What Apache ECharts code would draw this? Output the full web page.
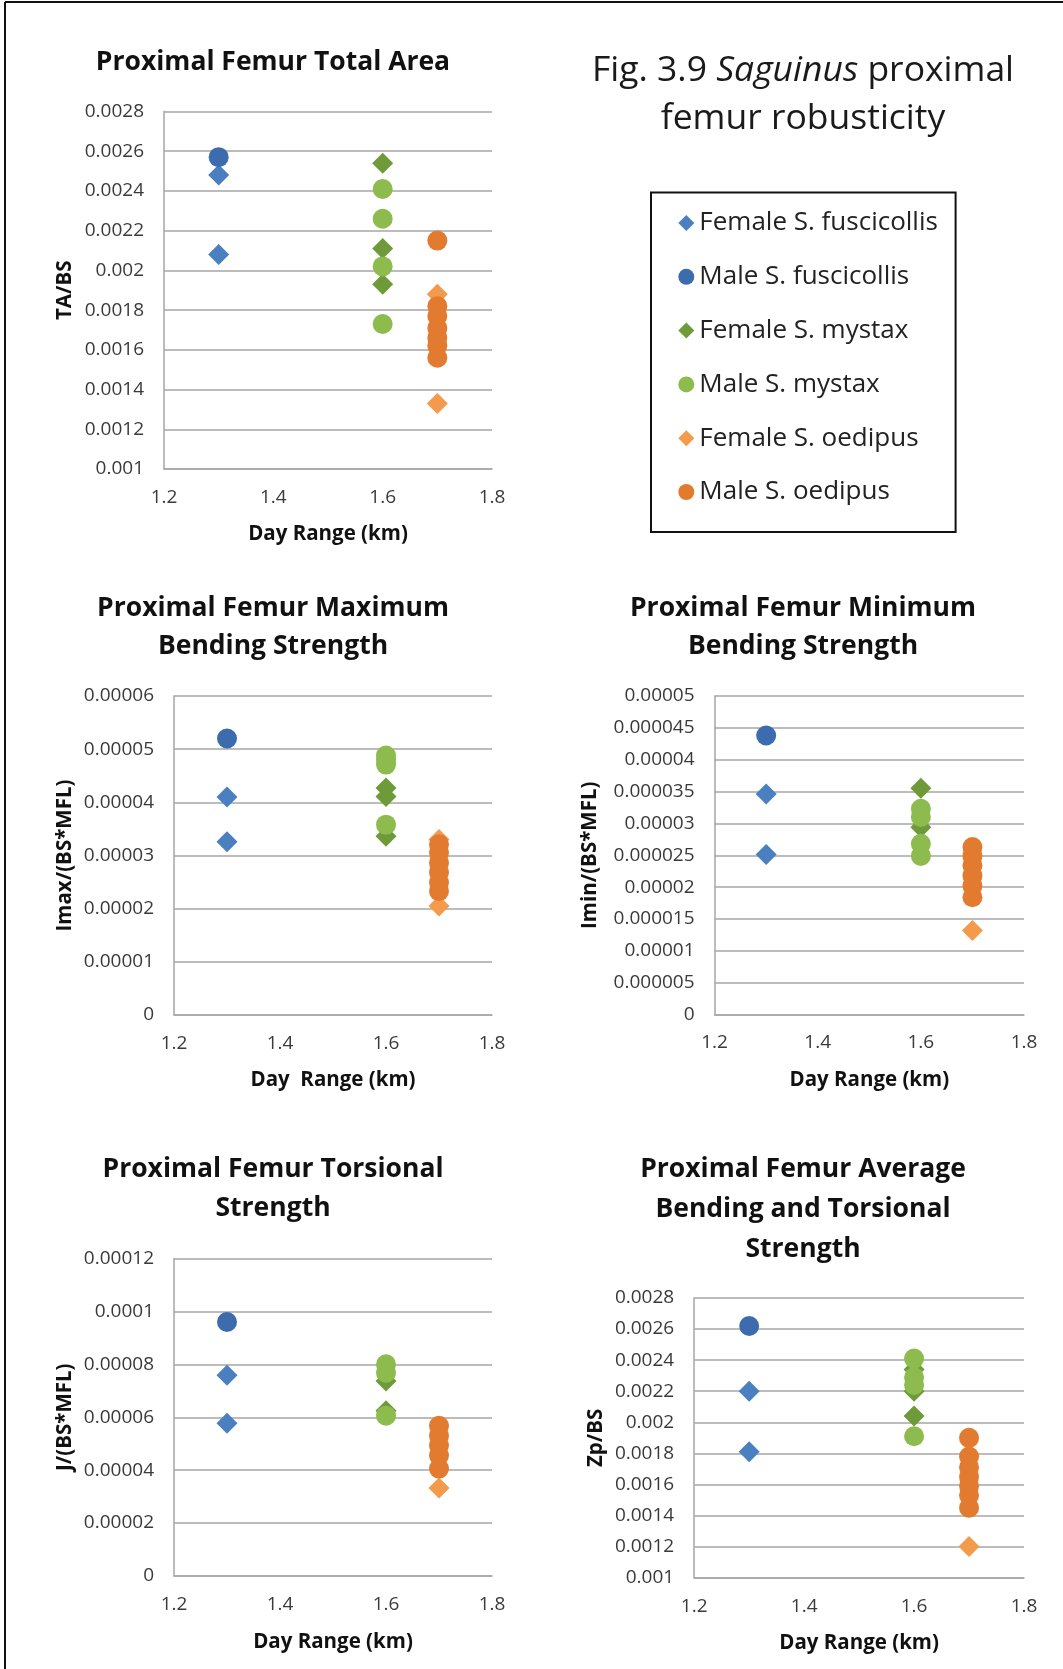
<!DOCTYPE html>
<html>
<head>
<meta charset="utf-8">
<script src="https://cdn.jsdelivr.net/npm/echarts/dist/echarts.min.js"></script>
<style>
  html, body { margin: 0; padding: 0; background: #ffffff; }
  #main { width: 1063px; height: 1669px; }
</style>
</head>
<body>
<div id="main"></div>
<script>
// Groups (legend order), their day range and marker styling
const groups = ['Female S. fuscicollis', 'Male S. fuscicollis', 'Female S. mystax',
                'Male S. mystax', 'Female S. oedipus', 'Male S. oedipus'];
const groupDayRange = [1.3, 1.3, 1.6, 1.6, 1.7, 1.7];
const groupSymbols = ['diamond', 'circle', 'diamond', 'circle', 'diamond', 'circle'];
const groupColors = ['#4a7fc0', '#3d6cae', '#6f9a3a', '#8dbb4e', '#f39a4c', '#e27b30'];

// Shared x axis ticks (day range, km)
const dayRangeTicks = [1.2, 1.4, 1.6, 1.8];

// Total area: TA/BS
const taTicks = [0.001, 0.0012, 0.0014, 0.0016, 0.0018, 0.002, 0.0022, 0.0024, 0.0026, 0.0028];
const taValues = [
  [0.00248, 0.00208],
  [0.00257],
  [0.00254, 0.00211, 0.00193],
  [0.00241, 0.00226, 0.00202, 0.00173],
  [0.00188, 0.00133],
  [0.00215, 0.00182, 0.00177, 0.00171, 0.00166, 0.00162, 0.00156]
];

// Maximum bending strength: Imax/(BS*MFL)
const imaxTicks = [0, 0.00001, 0.00002, 0.00003, 0.00004, 0.00005, 0.00006];
const imaxValues = [
  [0.000041, 0.0000326],
  [0.000052],
  [0.0000427, 0.0000411, 0.0000336],
  [0.0000488, 0.000048, 0.0000471, 0.0000358],
  [0.000033, 0.0000205],
  [0.0000321, 0.0000305, 0.0000286, 0.0000268, 0.0000249, 0.0000233]
];

// Minimum bending strength: Imin/(BS*MFL)
const iminTicks = [0, 0.000005, 0.00001, 0.000015, 0.00002, 0.000025, 0.00003, 0.000035, 0.00004, 0.000045, 0.00005];
const iminValues = [
  [0.0000346, 0.0000251],
  [0.0000438],
  [0.0000355, 0.0000294],
  [0.0000323, 0.000031, 0.0000268, 0.0000249],
  [0.0000132],
  [0.0000263, 0.0000249, 0.0000234, 0.0000218, 0.0000202, 0.0000184]
];

// Torsional strength: J/(BS*MFL)
const jTicks = [0, 0.00002, 0.00004, 0.00006, 0.00008, 0.0001, 0.00012];
const jValues = [
  [0.0000759, 0.0000577],
  [0.000096],
  [0.0000737, 0.0000625],
  [0.00008, 0.0000768, 0.0000606],
  [0.0000333],
  [0.0000568, 0.000053, 0.0000493, 0.0000455, 0.0000406]
];

// Average bending and torsional strength: Zp/BS
const zpTicks = [0.001, 0.0012, 0.0014, 0.0016, 0.0018, 0.002, 0.0022, 0.0024, 0.0026, 0.0028];
const zpValues = [
  [0.0022, 0.00181],
  [0.00262],
  [0.00234, 0.0022, 0.00204],
  [0.00241, 0.00229, 0.00224, 0.00191],
  [0.0012],
  [0.0019, 0.00178, 0.00171, 0.00165, 0.00159, 0.00153, 0.00145]
];

const FONT = '"Open Sans"';

// Panel layout: plot rectangle, headings and value arrays
const panels = [
  { title: 'Proximal Femur Total Area', tx: 273, ty: 43, lh: 38,
    yName: 'TA/BS', yGap: 88, xName: 'Day Range (km)', xGap: 55,
    ticks: taTicks, values: taValues, grid: { left: 164, top: 111.5, width: 328, height: 357.5 } },
  { title: 'Proximal Femur Maximum\nBending Strength', tx: 273, ty: 589, lh: 38.5,
    yName: 'Imax/(BS*MFL)', yGap: 98, xName: 'Day  Range (km)', xGap: 55,
    ticks: imaxTicks, values: imaxValues, grid: { left: 174, top: 696, width: 318, height: 319 } },
  { title: 'Proximal Femur Minimum\nBending Strength', tx: 803, ty: 589, lh: 38.5,
    yName: 'Imin/(BS*MFL)', yGap: 114, xName: 'Day Range (km)', xGap: 55,
    ticks: iminTicks, values: iminValues, grid: { left: 714.6, top: 696, width: 309.4, height: 318.5 } },
  { title: 'Proximal Femur Torsional\nStrength', tx: 273, ty: 1149.5, lh: 39.4,
    yName: 'J/(BS*MFL)', yGap: 98, xName: 'Day Range (km)', xGap: 56,
    ticks: jTicks, values: jValues, grid: { left: 174, top: 1258.5, width: 318, height: 317.5 } },
  { title: 'Proximal Femur Average\nBending and Torsional\nStrength', tx: 803, ty: 1150, lh: 39.6,
    yName: 'Zp/BS', yGap: 88, xName: 'Day Range (km)', xGap: 55,
    ticks: zpTicks, values: zpValues, grid: { left: 694.2, top: 1298, width: 329.8, height: 279.7 } }
];

function step(ticks) { return Number((ticks[1] - ticks[0]).toPrecision(6)); }
function fmtNum(v) { return String(Number(v.toPrecision(6))); }

const gridColor = '#a6a6a6';
const labelColor = '#3a3a3a';

const option = {
  backgroundColor: '#ffffff',
  animation: false,
  title: [],
  grid: [],
  xAxis: [],
  yAxis: [],
  series: [],
  legend: {
    orient: 'vertical',
    left: 678.3, top: 210, padding: 0,
    itemWidth: 16, itemHeight: 16, itemGap: 27.8,
    selectedMode: false,
    data: groups.map((g, i) => ({ name: g, icon: groupSymbols[i] })),
    textStyle: { fontFamily: FONT, fontSize: 26, color: '#222' }
  },
  graphic: [
    // figure frame (left and top edges)
    { type: 'line', shape: { x1: 5, y1: 2, x2: 5, y2: 1669 }, style: { stroke: '#111', lineWidth: 2 } },
    { type: 'line', shape: { x1: 5, y1: 2, x2: 1063, y2: 2 }, style: { stroke: '#111', lineWidth: 2 } },
    // legend box
    { type: 'rect', shape: { x: 651, y: 192.6, width: 304.6, height: 339.4 },
      style: { fill: 'none', stroke: '#111', lineWidth: 2 } }
  ]
};

// Figure caption
option.title.push({
  text: '{r|Fig. 3.9 }{i|Saguinus}{r| proximal}\n{r|femur robusticity}',
  left: 803, top: 47, textAlign: 'center', padding: 0,
  textStyle: {
    fontWeight: 'normal',
    rich: {
      r: { fontFamily: FONT, fontSize: 35.5, fontWeight: 'normal', color: '#1a1a1a', lineHeight: 48 },
      i: { fontFamily: FONT, fontSize: 35.5, fontWeight: 'normal', fontStyle: 'italic', color: '#1a1a1a', lineHeight: 48 }
    }
  }
});

panels.forEach((p, k) => {
  option.title.push({
    text: p.title, left: p.tx, top: p.ty, textAlign: 'center', padding: 0,
    textStyle: { fontFamily: FONT, fontWeight: 'bold', fontSize: 26.5, color: '#111', lineHeight: p.lh }
  });
  option.grid.push(Object.assign({ containLabel: false }, p.grid));
  option.xAxis.push({
    type: 'value', gridIndex: k,
    min: dayRangeTicks[0], max: dayRangeTicks[dayRangeTicks.length - 1], interval: step(dayRangeTicks),
    name: p.xName, nameLocation: 'middle', nameGap: p.xGap,
    nameTextStyle: { fontFamily: FONT, fontWeight: 'bold', fontSize: 20.5, color: '#111' },
    axisLine: { show: true, lineStyle: { color: gridColor, width: 1.5 } },
    axisTick: { show: false },
    splitLine: { show: false },
    axisLabel: { margin: 19, fontFamily: FONT, fontSize: 19, color: labelColor,
                 showMinLabel: true, showMaxLabel: true, formatter: v => v.toFixed(1) }
  });
  option.yAxis.push({
    type: 'value', gridIndex: k,
    min: p.ticks[0], max: p.ticks[p.ticks.length - 1], interval: step(p.ticks),
    name: p.yName, nameLocation: 'middle', nameGap: p.yGap,
    nameTextStyle: { fontFamily: FONT, fontWeight: 'bold', fontSize: 20.5, color: '#111' },
    axisLine: { show: true, lineStyle: { color: gridColor, width: 1.5 } },
    axisTick: { show: false },
    splitLine: { show: true, lineStyle: { color: gridColor, width: 1.5 } },
    axisLabel: { margin: 20, fontFamily: FONT, fontSize: 19, color: labelColor,
                 showMinLabel: true, showMaxLabel: true, formatter: fmtNum }
  });
  groups.forEach((g, i) => {
    option.series.push({
      name: g, type: 'scatter', xAxisIndex: k, yAxisIndex: k,
      symbol: groupSymbols[i], symbolSize: groupSymbols[i] === 'diamond' ? 21 : 20,
      itemStyle: { color: groupColors[i], opacity: 1 },
      z: 2 + i,
      data: p.values[i].map(v => [groupDayRange[i], v])
    });
  });
});

const chart = echarts.init(document.getElementById('main'), null, { renderer: 'canvas' });
chart.setOption(option);
</script>
</body>
</html>
